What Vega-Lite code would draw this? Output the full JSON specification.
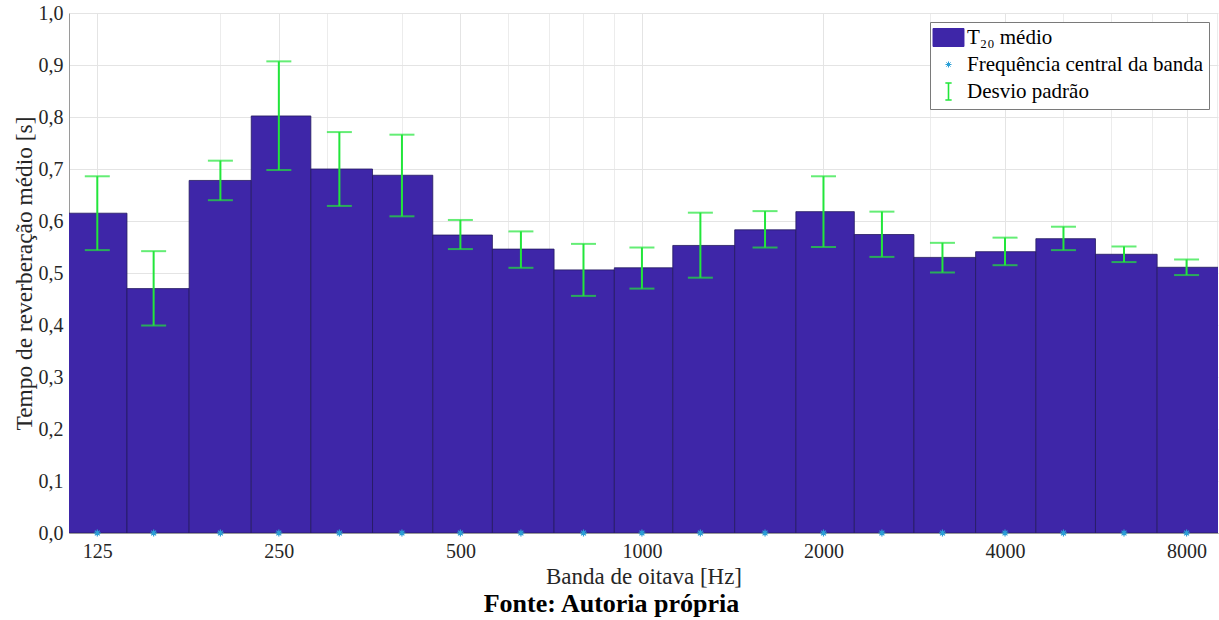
{
  "$schema": "https://vega.github.io/schema/vega-lite/v6.json",
  "width": 1149,
  "height": 520,
  "autosize": {"type": "none"},
  "padding": {"left": 69, "top": 13, "right": 1, "bottom": 87},
  "background": "white",
  "title": {
    "text": "Fonte: Autoria própria",
    "orient": "bottom",
    "anchor": "middle",
    "frame": "group",
    "dx": -32,
    "offset": 3,
    "font": "Liberation Serif",
    "fontSize": 26,
    "fontWeight": "bold",
    "color": "black"
  },
  "data": {
    "values": [
      {"f": 125, "x0": 110, "x1": 140, "t20": 0.615, "lo": 0.544, "hi": 0.686},
      {"f": 155, "x0": 140, "x1": 177.5, "t20": 0.470, "lo": 0.399, "hi": 0.542},
      {"f": 200, "x0": 177.5, "x1": 225, "t20": 0.678, "lo": 0.640, "hi": 0.716},
      {"f": 250, "x0": 225, "x1": 282.5, "t20": 0.802, "lo": 0.698, "hi": 0.907},
      {"f": 315, "x0": 282.5, "x1": 357.5, "t20": 0.700, "lo": 0.629, "hi": 0.771},
      {"f": 400, "x0": 357.5, "x1": 450, "t20": 0.688, "lo": 0.609, "hi": 0.766},
      {"f": 500, "x0": 450, "x1": 565, "t20": 0.573, "lo": 0.546, "hi": 0.602},
      {"f": 630, "x0": 565, "x1": 715, "t20": 0.546, "lo": 0.510, "hi": 0.580},
      {"f": 800, "x0": 715, "x1": 900, "t20": 0.506, "lo": 0.456, "hi": 0.556},
      {"f": 1000, "x0": 900, "x1": 1125, "t20": 0.510, "lo": 0.470, "hi": 0.549},
      {"f": 1250, "x0": 1125, "x1": 1425, "t20": 0.553, "lo": 0.491, "hi": 0.616},
      {"f": 1600, "x0": 1425, "x1": 1800, "t20": 0.583, "lo": 0.549, "hi": 0.619},
      {"f": 2000, "x0": 1800, "x1": 2250, "t20": 0.618, "lo": 0.550, "hi": 0.686},
      {"f": 2500, "x0": 2250, "x1": 2825, "t20": 0.574, "lo": 0.531, "hi": 0.618},
      {"f": 3150, "x0": 2825, "x1": 3575, "t20": 0.530, "lo": 0.501, "hi": 0.558},
      {"f": 4000, "x0": 3575, "x1": 4500, "t20": 0.541, "lo": 0.515, "hi": 0.568},
      {"f": 5000, "x0": 4500, "x1": 5650, "t20": 0.566, "lo": 0.544, "hi": 0.589},
      {"f": 6300, "x0": 5650, "x1": 7150, "t20": 0.536, "lo": 0.521, "hi": 0.551},
      {"f": 8000, "x0": 7150, "x1": 9100, "t20": 0.511, "lo": 0.496, "hi": 0.526}
    ]
  },
  "resolve": {"axis": {"x": "independent"}},
  "layer": [
    {
      "mark": {"type": "bar", "clip": true, "stroke": "#231960", "strokeWidth": 0.8},
      "encoding": {
        "x": {
          "field": "x0",
          "type": "quantitative",
          "scale": {"type": "log", "domain": [112.2, 9020], "nice": false, "zero": false},
          "axis": {
            "values": [125, 250, 500, 1000, 2000, 4000, 8000],
            "format": "d",
            "title": "Banda de oitava [Hz]",
            "grid": true,
            "gridColor": "#e4e4e4",
            "ticks": false,
            "labelPadding": 8,
            "titlePadding": 4
          }
        },
        "x2": {"field": "x1"},
        "y": {
          "field": "t20",
          "type": "quantitative",
          "title": "Tempo de reverberação médio [s]",
          "scale": {"domain": [0, 1], "nice": false},
          "axis": {
            "values": [0, 0.1, 0.2, 0.3, 0.4, 0.5, 0.6, 0.7, 0.8, 0.9, 1.0],
            "labelExpr": "replace(format(datum.value, '.1f'), '.', ',')",
            "grid": true,
            "gridColor": "#e4e4e4",
            "ticks": false,
            "labelPadding": 6,
            "titlePadding": 2
          }
        },
        "y2": {"datum": 0},
        "color": {
          "datum": "T₂₀ médio",
          "type": "nominal",
          "scale": {
            "domain": ["T₂₀ médio", "Frequência central da banda", "Desvio padrão"],
            "range": ["#3e26a8", "#2a9fd6", "#22e63a"]
          },
          "legend": {
            "title": null,
            "orient": "top-right",
            "offset": 9,
            "encode": {
              "symbols": {
                "update": {
                  "shape": {"signal": "datum.value === 'T₂₀ médio' ? 'M-1.72,-1L1.72,-1L1.72,1L-1.72,1Z' : datum.value === 'Desvio padrão' ? 'M-0.35,-0.95L0.35,-0.95M0,-0.95L0,0.95M-0.35,0.95L0.35,0.95' : 'M-1,0L1,0M0,-1L0,1M-0.7,-0.7L0.7,0.7M-0.7,0.7L0.7,-0.7'"},
                  "size": {"signal": "datum.value === 'Frequência central da banda' ? 36 : 324"},
                  "fill": {"signal": "datum.value === 'T₂₀ médio' ? '#3e26a8' : 'transparent'"},
                  "stroke": {"signal": "datum.value === 'T₂₀ médio' ? '#231960' : datum.value === 'Desvio padrão' ? '#22e63a' : '#2a9fd6'"},
                  "strokeWidth": {"signal": "datum.value === 'Desvio padrão' ? 1.6 : 1"},
                  "opacity": {"value": 1}
                }
              }
            }
          }
        }
      }
    },
    {
      "mark": {
        "type": "point",
        "shape": "M-1,0L1,0M0,-1L0,1M-0.7,-0.7L0.7,0.7M-0.7,0.7L0.7,-0.7",
        "filled": false,
        "size": 49,
        "strokeWidth": 1.2,
        "opacity": 1
      },
      "encoding": {
        "x": {
          "field": "f",
          "type": "quantitative",
          "axis": {
            "orient": "top",
            "values": [200, 300, 400, 600, 700, 800, 900, 3000, 5000, 6000, 7000, 9000],
            "labels": false,
            "ticks": false,
            "domain": false,
            "grid": true,
            "gridColor": "#ececec",
            "title": null
          }
        },
        "y": {"datum": 0, "type": "quantitative", "title": "Tempo de reverberação médio [s]"},
        "color": {
          "datum": "Frequência central da banda",
          "type": "nominal",
          "legend": {
            "title": null,
            "orient": "top-right",
            "offset": 9,
            "encode": {
              "symbols": {
                "update": {
                  "shape": {"signal": "datum.value === 'T₂₀ médio' ? 'M-1.72,-1L1.72,-1L1.72,1L-1.72,1Z' : datum.value === 'Desvio padrão' ? 'M-0.35,-0.95L0.35,-0.95M0,-0.95L0,0.95M-0.35,0.95L0.35,0.95' : 'M-1,0L1,0M0,-1L0,1M-0.7,-0.7L0.7,0.7M-0.7,0.7L0.7,-0.7'"},
                  "size": {"signal": "datum.value === 'Frequência central da banda' ? 36 : 324"},
                  "fill": {"signal": "datum.value === 'T₂₀ médio' ? '#3e26a8' : 'transparent'"},
                  "stroke": {"signal": "datum.value === 'T₂₀ médio' ? '#231960' : datum.value === 'Desvio padrão' ? '#22e63a' : '#2a9fd6'"},
                  "strokeWidth": {"signal": "datum.value === 'Desvio padrão' ? 1.6 : 1"},
                  "opacity": {"value": 1}
                }
              }
            }
          }
        }
      }
    },
    {
      "mark": {
        "type": "errorbar",
        "thickness": 2,
        "ticks": {"size": 25, "thickness": 2}
      },
      "encoding": {
        "x": {"field": "f", "type": "quantitative", "axis": null},
        "y": {"field": "lo", "type": "quantitative", "title": "Tempo de reverberação médio [s]"},
        "y2": {"field": "hi"},
        "color": {
          "datum": "Desvio padrão",
          "type": "nominal",
          "legend": {
            "title": null,
            "orient": "top-right",
            "offset": 9,
            "encode": {
              "symbols": {
                "update": {
                  "shape": {"signal": "datum.value === 'T₂₀ médio' ? 'M-1.72,-1L1.72,-1L1.72,1L-1.72,1Z' : datum.value === 'Desvio padrão' ? 'M-0.35,-0.95L0.35,-0.95M0,-0.95L0,0.95M-0.35,0.95L0.35,0.95' : 'M-1,0L1,0M0,-1L0,1M-0.7,-0.7L0.7,0.7M-0.7,0.7L0.7,-0.7'"},
                  "size": {"signal": "datum.value === 'Frequência central da banda' ? 36 : 324"},
                  "fill": {"signal": "datum.value === 'T₂₀ médio' ? '#3e26a8' : 'transparent'"},
                  "stroke": {"signal": "datum.value === 'T₂₀ médio' ? '#231960' : datum.value === 'Desvio padrão' ? '#22e63a' : '#2a9fd6'"},
                  "strokeWidth": {"signal": "datum.value === 'Desvio padrão' ? 1.6 : 1"},
                  "opacity": {"value": 1}
                }
              }
            }
          }
        }
      }
    }
  ],
  "config": {
    "font": "Liberation Serif",
    "view": {"stroke": null},
    "axis": {
      "labelFont": "Liberation Serif",
      "titleFont": "Liberation Serif",
      "labelFontSize": 20,
      "titleFontWeight": "normal",
      "labelColor": "#262626",
      "titleColor": "#262626",
      "domainColor": "#9a9a9a",
      "domainWidth": 1
    },
    "axisX": {"titleFontSize": 23},
    "axisY": {"titleFontSize": 23.4},
    "legend": {
      "strokeColor": "#7a7a7a",
      "fillColor": "white",
      "padding": 5,
      "symbolSize": 324,
      "symbolOffset": 3,
      "labelOffset": 8,
      "rowPadding": 4,
      "labelFont": "Liberation Serif",
      "labelFontSize": 21,
      "labelColor": "black",
      "labelLimit": 400
    }
  }
}
